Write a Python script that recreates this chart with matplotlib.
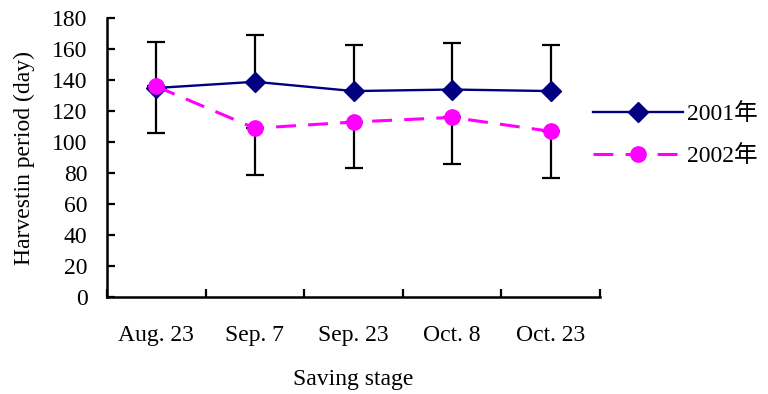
import matplotlib
matplotlib.use("Agg")
import matplotlib.pyplot as plt
import numpy as np

categories = ["Aug. 23", "Sep. 7", "Sep. 23", "Oct. 8", "Oct. 23"]
y2001 = [135, 139, 133, 134, 133]
err2001_upper = [30, 30, 30, 30, 30]
y2002 = [136, 109, 113, 116, 107]
err2002_lower = [30, 30, 30, 30, 30]
series_names = ["2001年", "2002年"]

plt.rcParams['font.family'] = ['Liberation Serif', 'Noto Sans CJK SC']
FS = 17

fig = plt.figure(figsize=(7.68, 3.94), dpi=100)
ax = fig.add_axes([107/768, 1-297/394, (600-107)/768, (297-18.3)/394])

x = np.arange(len(categories))
zeros = [0]*len(categories)

ax.errorbar(x, y2001, yerr=[zeros, err2001_upper], fmt='none', ecolor='black',
            elinewidth=1.6, capsize=6.5, capthick=1.6, zorder=1)
ax.errorbar(x, y2002, yerr=[err2002_lower, zeros], fmt='none', ecolor='black',
            elinewidth=1.6, capsize=6.5, capthick=1.6, zorder=1)

ax.plot(x, y2001, color='#000080', lw=1.7, marker='D', markersize=10,
        markerfacecolor='#000080', markeredgecolor='#000080', label=series_names[0], zorder=3)
ax.plot(x, y2002, color='#FF00FF', lw=2.2, dashes=(6.5, 4), marker='o', markersize=11,
        markerfacecolor='#FF00FF', markeredgecolor='#FF00FF', label=series_names[1], zorder=4)

ax.set_xlim(-0.5, len(categories)-0.5)
ax.set_ylim(0, 180)
ax.set_yticks(np.arange(0, 181, 20))
ax.set_xticks(x)
ax.set_xticklabels(categories, fontsize=FS)
ax.set_xticks(np.arange(-0.5, len(categories), 1.0), minor=True)
ax.tick_params(axis='x', which='major', length=0, pad=20)
ax.tick_params(axis='x', which='minor', direction='in', length=6, width=1.6)
ax.tick_params(axis='y', which='major', direction='in', length=6, width=1.6, pad=14, labelsize=FS)

for s in ['top', 'right']:
    ax.spines[s].set_visible(False)
for s in ['left', 'bottom']:
    ax.spines[s].set_linewidth(1.8)

ax.set_ylabel("Harvestin period (day)", fontsize=FS, labelpad=12)
ax.set_xlabel("Saving stage", fontsize=FS, labelpad=17)

leg = ax.legend(loc='center left', bbox_to_anchor=(593/768, 1-135.5/394),
                bbox_transform=fig.transFigure, frameon=False, fontsize=FS,
                handlelength=3.8, handletextpad=0.2, labelspacing=0.85,
                borderpad=0, borderaxespad=0)

fig.savefig("out.png", dpi=100)
